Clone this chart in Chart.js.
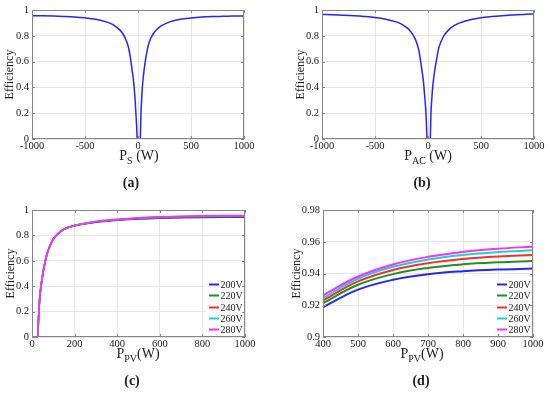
<!DOCTYPE html>
<html>
<head>
<meta charset="utf-8">
<script src="https://cdn.jsdelivr.net/npm/chart.js@4.4.0/dist/chart.umd.min.js"></script>
<style>
  body { margin: 0; background: #fff; width: 550px; height: 398px; position: relative; overflow: hidden; font-family: 'Liberation Serif', serif; color: #222; }
  canvas { position: absolute; }
  .xt { position: absolute; font-size: 14px; line-height: 1; white-space: nowrap; transform: translateX(-50%); }
  .xt sub { font-size: 10px; vertical-align: -4px; line-height: 0; }
  .lab { position: absolute; font-size: 14px; font-weight: bold; transform: translate(-50%, -50%); }
</style>
</head>
<body>
<canvas id="chartA" width="275" height="150" style="left:0;top:0"></canvas>
<canvas id="chartB" width="259" height="150" style="left:291px;top:0"></canvas>
<canvas id="chartC" width="274" height="148" style="left:1px;top:200px"></canvas>
<canvas id="chartD" width="263" height="148" style="left:287px;top:200px"></canvas>

<div class="xt" style="left:139px;top:149px">P<sub>S</sub> (W)</div>
<div class="xt" style="left:428px;top:149px">P<sub>AC</sub> (W)</div>
<div class="xt" style="left:138px;top:347px">P<sub>PV</sub>(W)</div>
<div class="xt" style="left:422px;top:347px">P<sub>PV</sub>(W)</div>

<div class="lab" style="left:131px;top:183px">(a)</div>
<div class="lab" style="left:422px;top:183px">(b)</div>
<div class="lab" style="left:132px;top:381px">(c)</div>
<div class="lab" style="left:421px;top:381px">(d)</div>

<script>
// (a) efficiency vs P_S, two arms around the dip
const aPowerNeg = [-1000, -900, -800, -700, -600, -500, -400, -300, -250, -200, -170, -140, -120, -100, -85, -69, -55, -45, -35, -27, -19, -13, -8];
const aEffNeg = [0.956, 0.955, 0.953, 0.950, 0.946, 0.939, 0.928, 0.908, 0.892, 0.866, 0.844, 0.812, 0.781, 0.738, 0.692, 0.615, 0.53, 0.47, 0.39, 0.3, 0.19, 0.1, 0];
const aPowerPos = [22, 25, 28, 34, 41, 50, 60, 72, 85, 100, 120, 140, 170, 200, 250, 300, 400, 500, 600, 700, 800, 900, 1000];
const aEffPos = [0, 0.1, 0.2, 0.3, 0.4, 0.48, 0.55, 0.62, 0.68, 0.735, 0.78, 0.81, 0.843, 0.866, 0.89, 0.908, 0.928, 0.938, 0.945, 0.949, 0.951, 0.953, 0.954];

// (b) efficiency vs P_AC
const bPowerNeg = [-1000, -900, -800, -700, -600, -500, -400, -300, -250, -200, -170, -140, -120, -100, -85, -69, -55, -45, -38, -28, -19, -14, -10];
const bEffNeg = [0.965, 0.963, 0.960, 0.956, 0.950, 0.942, 0.929, 0.908, 0.890, 0.863, 0.840, 0.806, 0.774, 0.729, 0.682, 0.6, 0.52, 0.46, 0.4, 0.3, 0.2, 0.1, 0];
const bPowerPos = [22, 25, 28, 35, 44, 55, 65, 82, 100, 120, 140, 160, 200, 250, 300, 400, 500, 600, 700, 800, 900, 1000];
const bEffPos = [0, 0.1, 0.2, 0.3, 0.4, 0.48, 0.54, 0.62, 0.7, 0.75, 0.785, 0.812, 0.85, 0.88, 0.9, 0.925, 0.94, 0.949, 0.956, 0.962, 0.966, 0.969];

// (c) efficiency vs P_PV for five PV voltages
const voltLabels = ['200V', '220V', '240V', '260V', '280V'];
const voltColors = ['#2424ff', '#1f8f1f', '#ff2a2a', '#12d6d6', '#ff2bff'];
const cPower = [0, 27, 30, 34, 38, 44, 50, 60, 70, 80, 100, 120, 150, 200, 250, 300, 400, 500, 600, 700, 800, 900, 1000];
const c200 = [0, 0, 0.12, 0.25, 0.34, 0.42, 0.49, 0.58, 0.65, 0.70, 0.77, 0.81, 0.848, 0.876, 0.892, 0.904, 0.9188, 0.9298, 0.936, 0.9395, 0.9414, 0.9425, 0.9431];
const c220 = [0, 0, 0.12, 0.25, 0.34, 0.42, 0.49, 0.58, 0.65, 0.70, 0.77, 0.81, 0.848, 0.877, 0.893, 0.906, 0.9213, 0.9329, 0.9396, 0.9435, 0.9458, 0.9471, 0.9479];
const c240 = [0, 0, 0.12, 0.25, 0.34, 0.42, 0.49, 0.58, 0.65, 0.70, 0.77, 0.81, 0.849, 0.877, 0.894, 0.907, 0.923, 0.935, 0.9422, 0.9465, 0.9491, 0.9507, 0.9516];
const c260 = [0, 0, 0.12, 0.25, 0.34, 0.42, 0.49, 0.58, 0.65, 0.70, 0.77, 0.81, 0.849, 0.878, 0.895, 0.909, 0.9246, 0.9367, 0.9442, 0.9488, 0.9517, 0.9535, 0.9546];
const c280 = [0, 0, 0.12, 0.25, 0.34, 0.42, 0.49, 0.58, 0.65, 0.70, 0.77, 0.81, 0.85, 0.878, 0.896, 0.91, 0.9263, 0.9381, 0.9457, 0.9505, 0.9536, 0.9556, 0.9569];

// (d) zoom on 400..1000 W
const dPower = [400, 500, 600, 700, 800, 900, 1000];
const d200 = [0.9188, 0.9298, 0.9360, 0.9395, 0.9414, 0.9425, 0.9431];
const d220 = [0.9213, 0.9329, 0.9396, 0.9435, 0.9458, 0.9471, 0.9479];
const d240 = [0.9230, 0.9350, 0.9422, 0.9465, 0.9491, 0.9507, 0.9516];
const d260 = [0.9246, 0.9367, 0.9442, 0.9488, 0.9517, 0.9535, 0.9546];
const d280 = [0.9263, 0.9381, 0.9457, 0.9505, 0.9536, 0.9556, 0.9569];

const serif = "'Liberation Serif', serif";
const inkColor = '#222';
const frameColor = '#858585';

function toPoints(xs, ys) {
  return xs.map((x, i) => ({ x: x, y: ys[i] }));
}

// one series with a break in the middle of the dip
function dipSeries(xn, yn, xp, yp) {
  const pts = toPoints(xn, yn);
  pts.push({ x: (xn[xn.length - 1] + xp[0]) / 2, y: null });
  return pts.concat(toPoints(xp, yp));
}

const framePlugin = {
  id: 'frame',
  afterDraw(chart, args, opts) {
    const ctx = chart.ctx;
    const a = chart.chartArea;
    const sx = chart.scales.x;
    const sy = chart.scales.y;
    ctx.save();
    // legend box in the lower right corner
    if (opts.legend) {
      ctx.fillStyle = '#fff';
      ctx.fillRect(a.right - 39, a.bottom - 59, 38, 57);
      ctx.font = '10px ' + serif;
      ctx.textBaseline = 'middle';
      ctx.textAlign = 'left';
      chart.data.datasets.forEach((ds, i) => {
        const y = Math.round(a.bottom - 53 + i * 11.25) + 0.5;
        ctx.strokeStyle = ds.borderColor;
        ctx.lineWidth = 2;
        ctx.beginPath();
        ctx.moveTo(a.right - 36, y);
        ctx.lineTo(a.right - 26, y);
        ctx.stroke();
        ctx.fillStyle = inkColor;
        ctx.fillText(ds.label, a.right - 24.5, y + 0.5);
      });
    }
    // box round the plot + short inward ticks
    ctx.strokeStyle = frameColor;
    ctx.lineWidth = 1;
    ctx.strokeRect(Math.round(a.left) + 0.5, Math.round(a.top) + 0.5, Math.round(a.width) - 1, Math.round(a.height) - 1);
    ctx.beginPath();
    sx.ticks.forEach(t => {
      const px = Math.round(sx.getPixelForValue(t.value)) + 0.5;
      ctx.moveTo(px, a.bottom); ctx.lineTo(px, a.bottom - 3);
      ctx.moveTo(px, a.top); ctx.lineTo(px, a.top + 3);
    });
    sy.ticks.forEach(t => {
      const py = Math.round(sy.getPixelForValue(t.value)) + 0.5;
      ctx.moveTo(a.left, py); ctx.lineTo(a.left + 3, py);
      ctx.moveTo(a.right, py); ctx.lineTo(a.right - 3, py);
    });
    ctx.stroke();
    ctx.restore();
  }
};

function buildChart(id, datasets, xr, yr, lay, legend) {
  return new Chart(document.getElementById(id), {
    type: 'line',
    data: { datasets: datasets },
    options: {
      responsive: false,
      animation: false,
      devicePixelRatio: 1,
      layout: { padding: { top: lay.top, right: lay.right, left: 0, bottom: 0 } },
      elements: { point: { radius: 0 } },
      plugins: {
        legend: { display: false },
        tooltip: { enabled: false },
        frame: { legend: legend }
      },
      scales: {
        x: {
          type: 'linear',
          min: xr[0], max: xr[1],
          ticks: {
            stepSize: xr[2],
            padding: 1,
            color: inkColor,
            font: { family: serif, size: 10.5 },
            maxRotation: 0,
            callback: v => String(v)
          },
          grid: { color: '#e6e6e6', drawTicks: false },
          border: { display: false },
          afterFit: s => { s.height = 11; }
        },
        y: {
          min: yr[0], max: yr[1],
          ticks: {
            stepSize: yr[2],
            padding: 3,
            color: inkColor,
            font: { family: serif, size: 10.5 },
            callback: v => String(+v.toFixed(3))
          },
          grid: { color: '#e6e6e6', drawTicks: false },
          border: { display: false },
          title: {
            display: true,
            text: 'Efficiency',
            color: inkColor,
            font: { family: serif, size: 12 },
            padding: { top: 3, bottom: 0 }
          },
          afterFit: s => { s.width = lay.yw; }
        }
      }
    },
    plugins: [framePlugin]
  });
}

function blueCurve(points) {
  return [{
    label: 'Efficiency',
    data: points,
    borderColor: '#2424ff',
    borderWidth: 1.5,
    cubicInterpolationMode: 'monotone',
    spanGaps: false
  }];
}

// later voltages are drawn on top (lower order = drawn last)
function voltSeries(xs, lists, width, smooth) {
  return lists.map((ys, i) => ({
    label: voltLabels[i],
    data: toPoints(xs, ys),
    borderColor: voltColors[i],
    borderWidth: width,
    cubicInterpolationMode: smooth,
    tension: 0.4,
    order: lists.length - i,
    clip: 3
  }));
}

buildChart('chartA', blueCurve(dipSeries(aPowerNeg, aEffNeg, aPowerPos, aEffPos)),
  [-1000, 1000, 500], [0, 1, 0.2], { top: 10, right: 31, yw: 32 }, false);

buildChart('chartB', blueCurve(dipSeries(bPowerNeg, bEffNeg, bPowerPos, bEffPos)),
  [-1000, 1000, 500], [0, 1, 0.2], { top: 10, right: 16, yw: 31 }, false);

buildChart('chartC', voltSeries(cPower, [c200, c220, c240, c260, c280], 1.6, 'monotone'),
  [0, 1000, 200], [0, 1, 0.2], { top: 10, right: 30, yw: 31 }, true);

buildChart('chartD', voltSeries(dPower, [d200, d220, d240, d260, d280], 2, 'default'),
  [400, 1000, 100], [0.9, 0.98, 0.02], { top: 10, right: 17, yw: 36 }, true);
</script>
</body>
</html>
